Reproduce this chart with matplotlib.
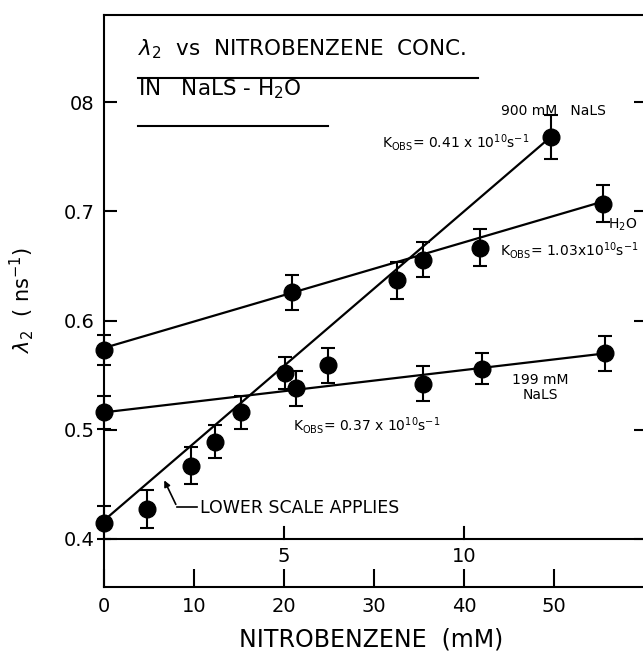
import matplotlib
matplotlib.use('Agg')
import matplotlib.pyplot as plt
import numpy as np

# upper scale (0-12) is used for H2O and 199 mM NaLS, lower scale (0-50 mM) for 900 mM NaLS
upper_to_lower = 4.0

h2o_conc = [0.0, 5.22, 8.85, 10.45, 13.85]
h2o_rate = [0.573, 0.626, 0.656, 0.667, 0.707]
h2o_err = [0.014, 0.016, 0.016, 0.017, 0.017]

nals199_conc = [0.0, 5.32, 6.22, 8.85, 10.5, 13.9]
nals199_rate = [0.516, 0.538, 0.559, 0.542, 0.556, 0.570]
nals199_err = [0.015, 0.016, 0.016, 0.016, 0.014, 0.016]

nals900_conc = [0.0, 4.75, 9.64, 12.35, 15.2, 20.1, 32.5, 49.6]
nals900_rate = [0.415, 0.4275, 0.467, 0.489, 0.516, 0.552, 0.637, 0.768]
nals900_err = [0.015, 0.017, 0.017, 0.015, 0.015, 0.015, 0.017, 0.020]

# straight line fits: H2O, 199 mM, 900 mM (slope per unit of each series' own scale)
fit_intercepts = [0.575, 0.516, 0.417]
fit_slopes = [0.00968, 0.00388, 0.00708]

x_ticks = [0, 10, 20, 30, 40, 50]
upper_ticks = [5, 10]
y_ticks = [0.4, 0.5, 0.6, 0.7, 0.8]
y_ticklabels = ['0.4', '0.5', '0.6', '0.7', '08']

W, H = 643, 653
fig = plt.figure(figsize=(W / 100, H / 100), dpi=100)
ax = fig.add_axes([104 / W, 1 - 587 / H, 542 / W, 572 / H])
ax.set_xlim(0, 60.2)
ax.set_ylim(0.356, 0.880)
for s in ax.spines.values():
    s.set_linewidth(1.5)

ax.set_xticks(x_ticks)
ax.set_xticklabels([str(t) for t in x_ticks])
ax.tick_params(axis='x', direction='in', length=13, width=1.5, labelsize=14, pad=7)
ax.set_yticks(y_ticks)
ax.set_yticklabels(y_ticklabels)
ax.tick_params(axis='y', direction='in', length=9, width=1.5, labelsize=14, pad=7, right=True)

# the upper (0-12) scale drawn on the 0.4 line
ax.axhline(0.4, color='black', lw=1.5)
for t in upper_ticks:
    xt = t * upper_to_lower
    ax.plot([xt, xt], [0.4, 0.411], color='black', lw=1.5)
    ax.text(xt, 0.3835, str(t), ha='center', va='center', fontsize=14)

series = [
    (h2o_conc, h2o_rate, h2o_err, upper_to_lower),
    (nals199_conc, nals199_rate, nals199_err, upper_to_lower),
    (nals900_conc, nals900_rate, nals900_err, 1.0),
]
for i, (c, r, e, k) in enumerate(series):
    c = np.array(c)
    xs = np.array([0, c.max()])
    ax.plot(xs * k, fit_intercepts[i] + fit_slopes[i] * xs, color='black', lw=1.6,
            clip_on=False, zorder=2)
    cont = ax.errorbar(c * k, r, yerr=e, fmt='o', color='black', ms=12, capsize=5,
                       elinewidth=1.5, capthick=1.5, zorder=3)
    for art in cont.get_children():
        art.set_clip_on(False)

# headings
ax.text(0.063, 0.930, r'$\lambda_2$  vs  NITROBENZENE  CONC.', transform=ax.transAxes,
        fontsize=15.5, va='baseline', ha='left')
ax.plot([0.063, 0.69], [0.890, 0.890], color='black', lw=1.5, transform=ax.transAxes)
ax.text(0.063, 0.860, r'IN   NaLS - H$_2$O', transform=ax.transAxes,
        fontsize=15.5, va='baseline', ha='left')
ax.plot([0.063, 0.413], [0.806, 0.806], color='black', lw=1.5, transform=ax.transAxes)

# labels on the lines
ax.text(49.9, 0.792, '900 mM   NaLS', ha='center', va='center', fontsize=10)
ax.text(30.9, 0.7635, r'K$_{\rm OBS}$= 0.41 x 10$^{10}$s$^{-1}$', ha='left', va='center',
        fontsize=10)
ax.text(57.6, 0.6875, r'H$_2$O', ha='center', va='center', fontsize=10)
ax.text(44.0, 0.6646, r'K$_{\rm OBS}$= 1.03x10$^{10}$s$^{-1}$', ha='left', va='center',
        fontsize=10)
ax.text(48.5, 0.539, '199 mM\nNaLS', ha='center', va='center', fontsize=10,
        linespacing=1.1)
ax.text(21.0, 0.5044, r'K$_{\rm OBS}$= 0.37 x 10$^{10}$s$^{-1}$', ha='left', va='center',
        fontsize=10)
ax.text(10.67, 0.4285, 'LOWER SCALE APPLIES', ha='left', va='center', fontsize=12.5)
ax.plot([10.33, 8.11], [0.4294, 0.4294], color='black', lw=1.2)
ax.annotate('', xy=(6.56, 0.4560), xytext=(8.11, 0.4294),
            arrowprops=dict(arrowstyle='-|>', color='black', lw=1.2, mutation_scale=9))

fig.text(371 / W, 1 - 639 / H, 'NITROBENZENE  (mM)', ha='center', va='center', fontsize=17)
fig.text(22 / W, 1 - 300 / H, r'$\lambda_2$  ( ns$^{-1}$)', ha='center', va='center',
         fontsize=15, rotation=90)

fig.savefig('out.png', dpi=100)
